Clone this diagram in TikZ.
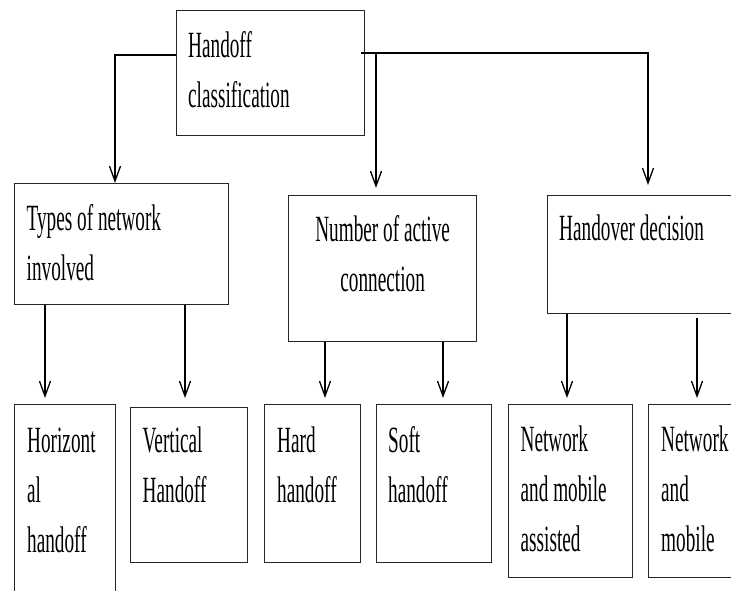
\documentclass[tikz,border=0pt]{standalone}
\usepackage{fontspec}
\setmainfont[FakeStretch=0.52]{Liberation Serif}
\usetikzlibrary{arrows.meta}
\begin{document}
\begin{tikzpicture}[x=1pt,y=-1pt,
  box/.style={draw=black!85, line width=1.3pt, rectangle, inner sep=0pt, anchor=north west},
  txt/.style={inner sep=0pt, font=\fontsize{37}{50}\selectfont, align=left, anchor=base west},
  ctxt/.style={txt, align=center, anchor=base},
  conn/.style={line width=1.3pt, -{Straight Barb[length=15pt,width=11pt,line width=1.3pt]}},
  plain/.style={line width=1.3pt}]
\useasboundingbox (0,0) rectangle (731,590);
\clip (0,0) rectangle (731,590);
% boxes
\node[box, minimum width=187.5pt, minimum height=125pt] (top) at (176,10) {};
\node[box, minimum width=214pt, minimum height=121pt] (types) at (14,183) {};
\node[box, minimum width=188pt, minimum height=146pt] (num) at (288,195) {};
\node[box, minimum width=200pt, minimum height=118pt] (hand) at (547,195) {};
\node[box, minimum width=101pt, minimum height=200pt] (horiz) at (14,404) {};
\node[box, minimum width=117pt, minimum height=155.5pt] (vert) at (129.5,406.5) {};
\node[box, minimum width=96pt, minimum height=158pt] (hard) at (263.5,404) {};
\node[box, minimum width=114.5pt, minimum height=158pt] (soft) at (376,404) {};
\node[box, minimum width=124pt, minimum height=173pt] (nma) at (508,404) {};
\node[box, minimum width=200pt, minimum height=173.5pt] (nm) at (648,403.5) {};
% texts (base anchor = baseline of the last line)
\node[txt] (ttop) at ([xshift=12pt,yshift=-97pt]top.north west) {Handoff\\classification};
\node[txt] (ttypes) at ([xshift=12.5pt,yshift=-97pt]types.north west) {Types of network\\involved};
\node[ctxt] (tnum) at ([yshift=-96pt]num.north) {Number of active\\connection};
\node[txt] (thand) at ([xshift=12pt,yshift=-45pt]hand.north west) {Handover decision};
\node[txt] (thoriz) at ([xshift=13pt,yshift=-148pt]horiz.north west) {Horizont\\al\\handoff};
\node[txt] (tvert) at ([xshift=13pt,yshift=-95.5pt]vert.north west) {Vertical\\Handoff};
\node[txt] (thard) at ([xshift=13.5pt,yshift=-98pt]hard.north west) {Hard\\handoff};
\node[txt] (tsoft) at ([xshift=12pt,yshift=-98pt]soft.north west) {Soft\\handoff};
\node[txt] (tnma) at ([xshift=12.5pt,yshift=-147pt]nma.north west) {Network\\and mobile\\assisted};
\node[txt] (tnm) at ([xshift=13pt,yshift=-147.5pt]nm.north west) {Network\\and\\mobile};
% x positions of connectors
\coordinate (xl) at (115,0);
\coordinate (xm) at (376,0);
\coordinate (xr) at (648,0);
\coordinate (xa) at (45,0);
\coordinate (xb) at (185,0);
\coordinate (xc) at (325,0);
\coordinate (xd) at (443,0);
\coordinate (xe) at (567,0);
\coordinate (xf) at (697,0);
% top level connectors
\draw[conn] ([yshift=-45pt]top.north west) -| (types.north -| xl);
\coordinate (hr) at ([xshift=-4pt,yshift=-43pt]top.north east);
\draw[conn, shorten >=10pt] (hr) -| (hand.north -| xr);
\draw[conn, shorten >=7pt] (hr -| xm) -- (num.north -| xm);
% second level connectors
\draw[conn, shorten >=6pt] (types.south -| xa) -- (horiz.north -| xa);
\draw[conn, shorten >=8.5pt] (types.south -| xb) -- (vert.north -| xb);
\draw[conn, shorten >=6pt] (num.south -| xc) -- (hard.north -| xc);
\draw[conn, shorten >=6pt] (num.south -| xd) -- (soft.north -| xd);
\draw[conn, shorten >=6pt] (hand.south -| xe) -- (nma.north -| xe);
\draw[conn, shorten <=4pt, shorten >=5.5pt] (hand.south -| xf) -- (nm.north -| xf);
\end{tikzpicture}
\end{document}
